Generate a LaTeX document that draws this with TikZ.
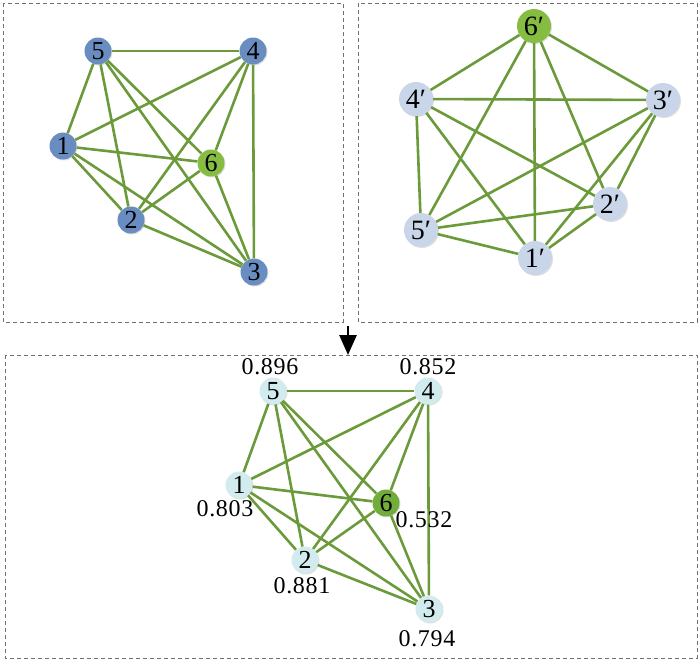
\documentclass[tikz,border=0pt]{standalone}
\usepackage{fontspec}
\setmainfont{Liberation Serif}
\usetikzlibrary{arrows.meta,shadows}
\definecolor{edgegreen}{HTML}{6B9A3A}
\definecolor{nblue}{HTML}{6A8DC1}
\definecolor{ngreen}{HTML}{86BC42}
\definecolor{nlight}{HTML}{C9D6EA}
\definecolor{ncyan}{HTML}{D2EBEE}
\definecolor{ngreendark}{HTML}{72AD3C}
\definecolor{boxgray}{HTML}{707070}
\tikzset{
  panel/.style={draw=boxgray, line width=0.8pt, dash pattern=on 4pt off 3pt},
  vtx/.style={circle, minimum size=27pt, inner sep=0pt, draw=none,
     font=\fontsize{26}{26}\selectfont, drop shadow={shadow xshift=1pt, shadow yshift=-1pt, opacity=0.25}},
  bluev/.style={vtx, fill=nblue},
  greenv/.style={vtx, fill=ngreen},
  lightv/.style={vtx, fill=nlight, minimum size=34pt, font=\fontsize{28}{28}\selectfont},
  greenbig/.style={vtx, fill=ngreen, minimum size=34pt, font=\fontsize{28}{28}\selectfont},
  cyanv/.style={vtx, fill=ncyan},
  greenb/.style={vtx, fill=ngreendark},
  edge/.style={draw=edgegreen, line width=2.6pt},
  val/.style={font=\fontsize{24}{24}\selectfont\addfontfeatures{LetterSpace=3}, inner sep=0pt}
}
\begin{document}
\begin{tikzpicture}[x=1pt,y=-1pt]
\useasboundingbox (0,0) rectangle (700,662);
% panels
\draw[panel] (3,3) rectangle (343,322);
\draw[panel] (358,3) rectangle (697,322);
\draw[panel] (5,355) rectangle (697,658);
% arrow
\coordinate (ar1) at (348,326);
\coordinate (ar2) at (348,355);
\draw[line width=2.6pt, -{Triangle[length=20pt,width=17pt]}] (ar1) -- (ar2);

% ---- top-left graph
\node[bluev] (a5) at (98,51) {5};
\node[bluev] (a4) at (253,51) {4};
\node[bluev] (a1) at (63,146) {1};
\node[greenv] (a6) at (211,163) {6};
\node[bluev] (a2) at (131,220) {2};
\node[bluev] (a3) at (254,272) {3};
\foreach \u/\v in {a5/a4,a5/a1,a5/a2,a5/a6,a5/a3,a4/a1,a4/a2,a4/a6,a4/a3,a1/a6,a1/a2,a1/a3,a2/a6,a2/a3,a6/a3}
  \draw[edge] (\u) -- (\v);

% ---- top-right graph
\node[greenbig] (b6) at (534,26) {6′};
\node[lightv] (b4) at (416,99) {4′};
\node[lightv] (b3) at (663,100) {3′};
\node[lightv] (b2) at (610,204) {2′};
\node[lightv] (b5) at (421,230) {5′};
\node[lightv] (b1) at (535,258) {1′};
\foreach \u/\v in {b6/b4,b6/b3,b6/b5,b6/b1,b6/b2,b4/b3,b4/b5,b4/b1,b4/b2,b3/b5,b3/b1,b3/b2,b5/b2,b5/b1,b1/b2}
  \draw[edge] (\u) -- (\v);

% ---- bottom graph
\node[cyanv] (c5) at (273,391) {5};
\node[cyanv] (c4) at (428,391) {4};
\node[cyanv] (c1) at (239,485) {1};
\node[greenb] (c6) at (386,503) {6};
\node[cyanv] (c2) at (305,560) {2};
\node[cyanv] (c3) at (429,609) {3};
\foreach \u/\v in {c5/c4,c5/c1,c5/c2,c5/c6,c5/c3,c4/c1,c4/c2,c4/c6,c4/c3,c1/c6,c1/c2,c1/c3,c2/c6,c2/c3,c6/c3}
  \draw[edge] (\u) -- (\v);

\node[val] (l5) at (270,367) {0.896};
\node[val] (l4) at (428,367) {0.852};
\node[val] (l1) at (225,509) {0.803};
\node[val] (l6) at (424,520) {0.532};
\node[val] (l2) at (302,586) {0.881};
\node[val] (l3) at (427,639) {0.794};
\end{tikzpicture}
\end{document}
